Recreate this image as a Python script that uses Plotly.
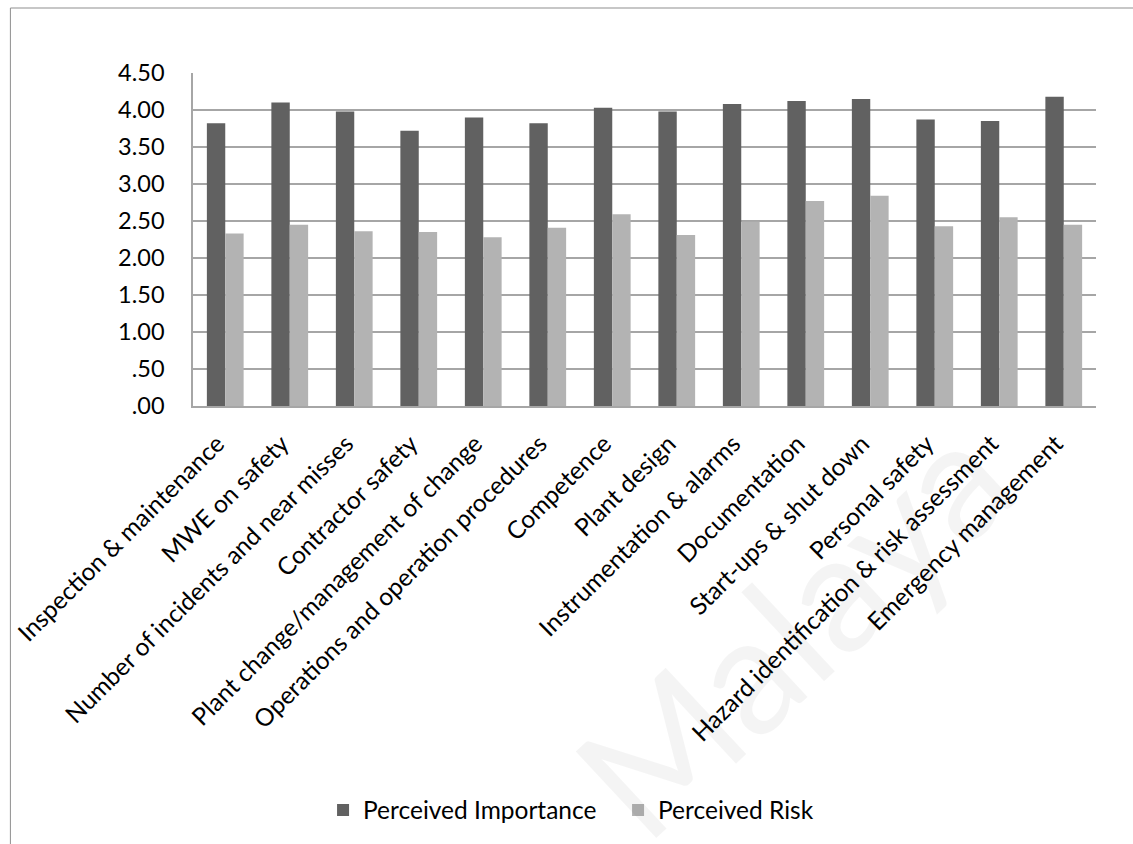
import plotly.graph_objects as go

# Process safety elements and their mean scores
categories = [
    "Inspection & maintenance",
    "MWE on safety",
    "Number of incidents and near misses",
    "Contractor safety",
    "Plant change/management of change",
    "Operations and operation procedures",
    "Competence",
    "Plant design",
    "Instrumentation & alarms",
    "Documentation",
    "Start-ups & shut down",
    "Personal safety",
    "Hazard identification & risk assessment",
    "Emergency management",
]
perceived_importance = [3.82, 4.10, 3.98, 3.72, 3.90, 3.82, 4.03, 3.98, 4.08, 4.12, 4.15, 3.87, 3.85, 4.18]
perceived_risk = [2.33, 2.45, 2.36, 2.35, 2.28, 2.41, 2.59, 2.31, 2.49, 2.77, 2.84, 2.43, 2.55, 2.45]

y_tickvals = [0, 0.5, 1.0, 1.5, 2.0, 2.5, 3.0, 3.5, 4.0, 4.5]
y_ticktext = [".00", ".50", "1.00", "1.50", "2.00", "2.50", "3.00", "3.50", "4.00", "4.50"]

FONT = "Lato, 'Open Sans', sans-serif"
W, H = 1133, 844
L, R, T, B = 191, 37, 73, 438
PW, PH = W - L - R, H - T - B


def px_x(px):
    return (px - L) / PW


def px_y(py):
    return (H - B - py) / PH


fig = go.Figure()
fig.add_trace(go.Bar(
    x=categories, y=perceived_importance, name="Perceived Importance",
    marker=dict(color="#616161", line=dict(width=0)),
))
fig.add_trace(go.Bar(
    x=categories, y=perceived_risk, name="Perceived Risk",
    marker=dict(color="#b3b3b3", line=dict(width=0)),
))

# outer chart frame (top and left edges)
frame = dict(color="#8f8f8f", width=1)
fig.add_shape(type="line", xref="paper", yref="paper",
              x0=px_x(8), x1=px_x(W + 5), y0=px_y(8), y1=px_y(8), line=frame)
fig.add_shape(type="line", xref="paper", yref="paper",
              x0=px_x(8), x1=px_x(8), y0=px_y(8), y1=px_y(H + 5), line=frame)

# faint repository watermark
fig.add_annotation(
    text="Malaya", xref="paper", yref="paper",
    x=px_x(790), y=px_y(625), xanchor="center", yanchor="middle",
    showarrow=False, textangle=-43,
    font=dict(family=FONT, size=165, color="rgba(0,0,0,0.045)"),
)

fig.update_layout(
    width=W, height=H,
    margin=dict(l=L, r=R, t=T, b=B),
    paper_bgcolor="white", plot_bgcolor="white",
    barmode="group", bargap=0.43, bargroupgap=0,
    font=dict(family=FONT, size=24, color="black"),
    showlegend=True,
    legend=dict(
        orientation="h", xanchor="center", yanchor="middle",
        x=px_x(617), y=px_y(810),
        font=dict(family=FONT, size=24.5, color="black"),
        itemwidth=30, traceorder="normal",
        entrywidth=250, entrywidthmode="pixels",
    ),
)
fig.update_xaxes(
    tickangle=-45, showgrid=False, showline=True, linecolor="#a6a6a6", linewidth=1.5,
    ticks="", ticklabelstandoff=12, ticklabelshift=-8,
    tickfont=dict(family=FONT, size=24.5, color="black"),
)
fig.update_yaxes(
    range=[0, 4.5], tickvals=y_tickvals, ticktext=y_ticktext,
    showgrid=True, gridcolor="#a6a6a6", gridwidth=1.5,
    showline=True, linecolor="#a6a6a6", linewidth=1.5,
    zeroline=False, ticks="", ticklen=0, ticklabelstandoff=22,
    tickfont=dict(family=FONT, size=23.5, color="black"),
)

fig.write_html("out.html")
